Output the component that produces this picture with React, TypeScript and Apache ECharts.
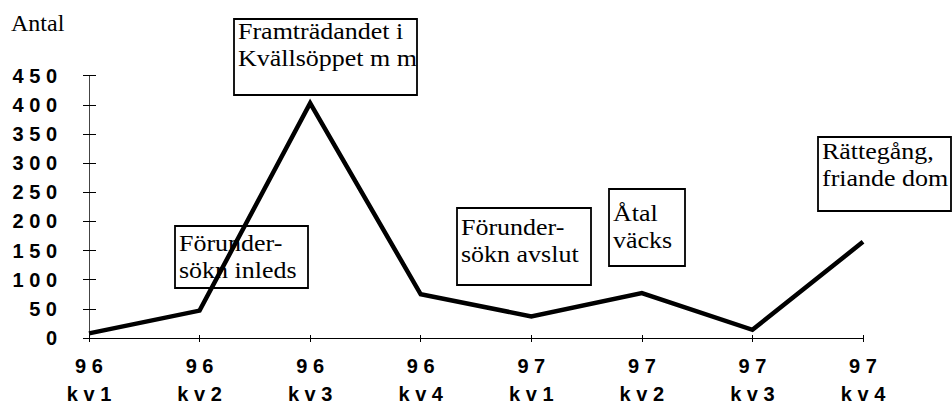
import React, { useEffect, useRef } from "react";
import * as echarts from "echarts";

const years = ["96", "96", "96", "96", "97", "97", "97", "97"];
const quarters = ["kv1", "kv2", "kv3", "kv4", "kv1", "kv2", "kv3", "kv4"];
const antal = [8, 47, 403, 75, 37, 77, 14, 165];
const yMin = 0;
const yMax = 450;
const yStep = 50;
const yTitle = "Antal";
const noteTexts = [
  "Framträdandet i\nKvällsöppet m m",
  "Förunder-\nsökn inleds",
  "Förunder-\nsökn avslut",
  "Åtal\nväcks",
  "Rättegång,\nfriande dom",
];

// layout of the annotation boxes (pixels)
const noteLayout = [
  { x: 234, y: 19, w: 183, h: 76, ty: 18 },
  { x: 175, y: 226, w: 133, h: 62, ty: 230 },
  { x: 457, y: 208, w: 134, h: 77, ty: 214 },
  { x: 609, y: 189, w: 76, h: 77, ty: 200 },
  { x: 818, y: 137, w: 133, h: 74, ty: 138 },
];

const spaced = (s: string) => s.split("").join(" ");

export default function App() {
  const ref = useRef<HTMLDivElement>(null);
  useEffect(() => {
    if (!ref.current) return;
    const chart = echarts.init(ref.current, undefined, { renderer: "svg" });
    const categories = years.map((y, i) => `${y}\n${quarters[i]}`);
    const graphics: any[] = [
      {
        type: "text",
        x: 11,
        y: 11,
        style: {
          text: yTitle,
          fontFamily: "Liberation Serif",
          fontSize: 24,
          fill: "#000",
          align: "left",
          verticalAlign: "top",
        },
      },
    ];
    noteTexts.forEach((t, i) => {
      const L = noteLayout[i];
      graphics.push({
        type: "rect",
        shape: { x: L.x, y: L.y, width: L.w, height: L.h },
        style: { fill: "none", stroke: "#000", lineWidth: 1.8 },
        z: 10,
      });
      graphics.push({
        type: "text",
        x: L.x + 4,
        y: L.ty,
        scaleX: 1.13,
        z: 10,
        style: {
          text: t,
          fontFamily: "Liberation Serif",
          fontSize: 23,
          lineHeight: 27,
          fill: "#000",
          align: "left",
          verticalAlign: "top",
        },
      });
    });
    chart.setOption({
      animation: false,
      backgroundColor: "#fff",
      grid: { left: 89, right: 89, top: 75.7, bottom: 67.3, containLabel: false },
      xAxis: [
        {
          type: "category",
          data: categories,
          boundaryGap: false,
          axisLine: { show: true, lineStyle: { color: "#000", width: 1 } },
          axisTick: { show: true, length: 4, lineStyle: { color: "#000" } },
          axisLabel: {
            interval: 0,
            formatter: (v: string) => v.split("\n").map(spaced).join("\n"),
            fontFamily: "Liberation Sans",
            fontSize: 20,
            fontWeight: "bold",
            lineHeight: 28,
            color: "#000",
            margin: 14,
          },
          splitLine: { show: false },
        },
        {
          type: "category",
          data: categories,
          boundaryGap: false,
          position: "bottom",
          axisLine: { show: false },
          axisTick: { show: true, inside: true, length: 3, lineStyle: { color: "#000" } },
          axisLabel: { show: false },
          splitLine: { show: false },
        },
      ],
      yAxis: [
        {
          type: "value",
          min: yMin,
          max: yMax,
          interval: yStep,
          axisLine: { show: true, lineStyle: { color: "#444", width: 1 } },
          axisTick: { show: true, length: 6, lineStyle: { color: "#000" } },
          axisLabel: {
            formatter: (v: number) => spaced(String(v)),
            fontFamily: "Liberation Sans",
            fontSize: 20,
            fontWeight: "bold",
            color: "#000",
            margin: 32,
          },
          splitLine: { show: false },
        },
        {
          type: "value",
          min: yMin,
          max: yMax,
          interval: yStep,
          position: "left",
          axisLine: { show: false },
          axisTick: { show: true, inside: true, length: 7, lineStyle: { color: "#000" } },
          axisLabel: { show: false },
          splitLine: { show: false },
        },
      ],
      series: [
        {
          type: "line",
          data: antal,
          xAxisIndex: 0,
          yAxisIndex: 0,
          symbol: "none",
          lineStyle: { color: "#000", width: 4.5, join: "miter" },
        },
      ],
      graphic: graphics,
    });
    return () => chart.dispose();
  }, []);
  return (
    <div
      ref={ref}
      style={{ position: "fixed", left: 0, top: 0, width: 952, height: 408 }}
    />
  );
}
